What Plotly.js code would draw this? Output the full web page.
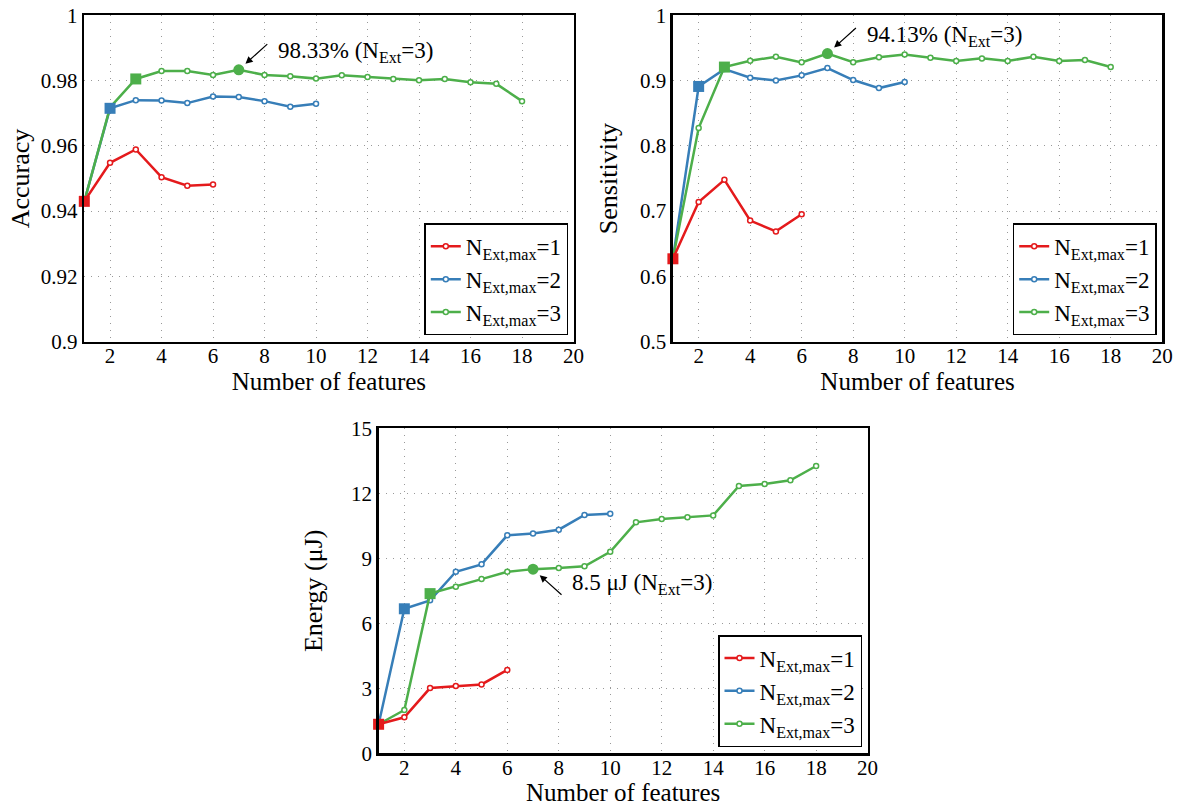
<!DOCTYPE html>
<html>
<head>
<meta charset="utf-8">
<script src="https://cdn.plot.ly/plotly-3.0.1.min.js"></script>
<style>html,body{margin:0;padding:0;background:#fff;}#chart{width:1177px;height:806px;}</style>
</head>
<body>
<div id="chart"></div>
<script>
// ---------------- DATA ----------------
const featN1 = [1, 2, 3, 4, 5, 6];
const featN2 = [1, 2, 3, 4, 5, 6, 7, 8, 9, 10];
const featN3 = [1, 2, 3, 4, 5, 6, 7, 8, 9, 10, 11, 12, 13, 14, 15, 16, 17, 18];

const accN1 = [0.943, 0.9548, 0.9589, 0.9504, 0.9478, 0.9482];
const accN2 = [0.943, 0.9715, 0.9740, 0.9739, 0.9731, 0.9751, 0.9750, 0.9737, 0.9720, 0.9729];
const accN3 = [0.943, 0.9718, 0.9805, 0.9829, 0.9829, 0.9817, 0.9833, 0.9817, 0.9813, 0.9806,
               0.9816, 0.9811, 0.9805, 0.9801, 0.9805, 0.9795, 0.9790, 0.9737];

const senN1 = [0.627, 0.714, 0.748, 0.6856, 0.669, 0.6952];
const senN2 = [0.627, 0.891, 0.9176, 0.9043, 0.9003, 0.908, 0.9192, 0.9008, 0.8885, 0.8977];
const senN3 = [0.627, 0.8272, 0.9207, 0.9304, 0.9365, 0.9279, 0.9413, 0.928, 0.9356, 0.9401,
               0.935, 0.930, 0.934, 0.930, 0.9365, 0.930, 0.9315, 0.9207];

const engN1 = [1.34, 1.66, 3.01, 3.11, 3.18, 3.85];
const engN2 = [1.34, 6.67, 7.06, 8.38, 8.72, 10.06, 10.14, 10.32, 11.0, 11.06];
const engN3 = [1.34, 2.0, 7.37, 7.69, 8.04, 8.38, 8.5, 8.55, 8.63, 9.3,
               10.66, 10.81, 10.9, 10.98, 12.34, 12.43, 12.6, 13.26];

const seriesNames = ['N<sub>Ext,max</sub>=1', 'N<sub>Ext,max</sub>=2', 'N<sub>Ext,max</sub>=3'];
const selectedIdx = [0, 1, 2];   // index of the selected point per series (square)
const bestIdx = 6;               // index of best point of series 3 (circle)

const xTickVals = [2, 4, 6, 8, 10, 12, 14, 16, 18, 20];
const xTickText = ['2', '4', '6', '8', '10', '12', '14', '16', '18', '20'];
const accTickVals = [0.9, 0.92, 0.94, 0.96, 0.98, 1];
const accTickText = ['0.9', '0.92', '0.94', '0.96', '0.98', '1'];
const senTickVals = [0.5, 0.6, 0.7, 0.8, 0.9, 1];
const senTickText = ['0.5', '0.6', '0.7', '0.8', '0.9', '1'];
const engTickVals = [0, 3, 6, 9, 12, 15];
const engTickText = ['0', '3', '6', '9', '12', '15'];

const annAcc = '98.33% (N<sub>Ext</sub>=3)';
const annSen = '94.13% (N<sub>Ext</sub>=3)';
const annEng = '8.5 μJ (N<sub>Ext</sub>=3)';

// ---------------- STYLE ----------------
const W = 1177, H = 806;
const FONT = "'Liberation Serif', 'DejaVu Serif', serif";
const colors = ['#e41a1c', '#377eb8', '#4daf4a'];
const feats = [featN1, featN2, featN3];

const traces = [];
function addPanel(xa, ya, leg, ys) {
  const order = [1, 2, 0];
  order.forEach(i => {
    traces.push({
      x: feats[i], y: ys[i], xaxis: xa, yaxis: ya, legend: leg,
      name: seriesNames[i], legendrank: i + 1,
      mode: 'lines+markers', type: 'scatter', cliponaxis: false,
      line: {color: colors[i], width: 2.5},
      marker: {symbol: 'circle', size: 5, color: 'white', line: {color: colors[i], width: 1.5}},
      hoverinfo: 'skip'
    });
  });
  traces.push({
    x: [feats[2][bestIdx]], y: [ys[2][bestIdx]], xaxis: xa, yaxis: ya,
    mode: 'markers', type: 'scatter', showlegend: false, hoverinfo: 'skip', cliponaxis: false,
    marker: {symbol: 'circle', size: 11, color: colors[2]}
  });
  [2, 1, 0].forEach(i => {
    traces.push({
      x: [feats[i][selectedIdx[i]]], y: [ys[i][selectedIdx[i]]], xaxis: xa, yaxis: ya,
      mode: 'markers', type: 'scatter', showlegend: false, hoverinfo: 'skip', cliponaxis: false,
      marker: {symbol: 'square', size: 11, color: colors[i]}
    });
  });
}
addPanel('x', 'y', 'legend', [accN1, accN2, accN3]);
addPanel('x2', 'y2', 'legend2', [senN1, senN2, senN3]);
addPanel('x3', 'y3', 'legend3', [engN1, engN2, engN3]);

function xAxis(d0, d1, anchor) {
  return {
    domain: [d0 / W, d1 / W], anchor: anchor, range: [1, 20],
    tickmode: 'array', tickvals: xTickVals, ticktext: xTickText,
    showgrid: true, gridcolor: '#999', gridwidth: 1, griddash: '1px,6px',
    zeroline: false, showline: true, linecolor: 'black', linewidth: 2.5, mirror: true,
    ticks: '', ticklabelstandoff: -6, tickfont: {family: FONT, size: 21, color: 'black'},
    title: {text: 'Number of features', font: {family: FONT, size: 25, color: 'black'}, standoff: 3},
    automargin: false
  };
}
function yAxis(top, bottom, anchor, range, tv, tt, title, so) {
  return {
    domain: [1 - bottom / H, 1 - top / H], anchor: anchor, range: range,
    tickmode: 'array', tickvals: tv, ticktext: tt,
    showgrid: true, gridcolor: '#999', gridwidth: 1, griddash: '1px,6px',
    zeroline: false, showline: true, linecolor: 'black', linewidth: 2.5, mirror: true,
    ticks: '', tickfont: {family: FONT, size: 21, color: 'black'},
    title: {text: title, font: {family: FONT, size: 26, color: 'black'}, standoff: so},
    automargin: false
  };
}
function legendBox(right, bottom) {
  return {
    x: right / W, y: 1 - bottom / H, xanchor: 'right', yanchor: 'bottom',
    bgcolor: 'white', bordercolor: 'black', borderwidth: 1.5,
    font: {family: FONT, size: 23, color: 'black'},
    tracegroupgap: 0, itemwidth: 30, traceorder: 'normal'
  };
}
function arrow(xr, yr, x, y, ax, ay) {
  return {xref: xr, yref: yr, x: x, y: y, ax: ax, ay: ay, text: '', showarrow: true,
          arrowhead: 2, arrowsize: 1.2, arrowwidth: 1.2, arrowcolor: 'black', standoff: 9};
}
function label(xr, yr, x, y, txt, xs, ys) {
  return {xref: xr, yref: yr, x: x, y: y, text: txt, showarrow: false,
          xanchor: 'left', yanchor: 'middle', xshift: xs, yshift: ys,
          font: {family: FONT, size: 23, color: 'black'}};
}

const layout = {
  width: W, height: H, autosize: false,
  margin: {l: 0, r: 0, t: 0, b: 0, pad: 0},
  paper_bgcolor: 'white', plot_bgcolor: 'white',
  xaxis: xAxis(84.3, 573.5, 'y'),
  yaxis: yAxis(15.3, 341.7, 'x', [0.9, 1], accTickVals, accTickText, 'Accuracy', 4),
  xaxis2: xAxis(672.9, 1162.2, 'y2'),
  yaxis2: yAxis(15.3, 341.7, 'x2', [0.5, 1], senTickVals, senTickText, 'Sensitivity', 15),
  xaxis3: xAxis(378.6, 867.6, 'y3'),
  yaxis3: yAxis(428.3, 753.3, 'x3', [0, 15], engTickVals, engTickText, 'Energy (μJ)', 21),
  legend: legendBox(568.3, 335.3),
  legend2: legendBox(1156.7, 335.3),
  legend3: legendBox(862, 747),
  annotations: [
    arrow('x', 'y', feats[2][bestIdx], accN3[bestIdx], 30, -27),
    label('x', 'y', feats[2][bestIdx], accN3[bestIdx], annAcc, 37, 18),
    arrow('x2', 'y2', feats[2][bestIdx], senN3[bestIdx], 30, -27),
    label('x2', 'y2', feats[2][bestIdx], senN3[bestIdx], annSen, 38, 18),
    arrow('x3', 'y3', feats[2][bestIdx], engN3[bestIdx], 30, 27),
    label('x3', 'y3', feats[2][bestIdx], engN3[bestIdx], annEng, 37, -15)
  ],
  showlegend: true
};

Plotly.newPlot('chart', traces, layout, {staticPlot: true, displayModeBar: false});
</script>
</body>
</html>
